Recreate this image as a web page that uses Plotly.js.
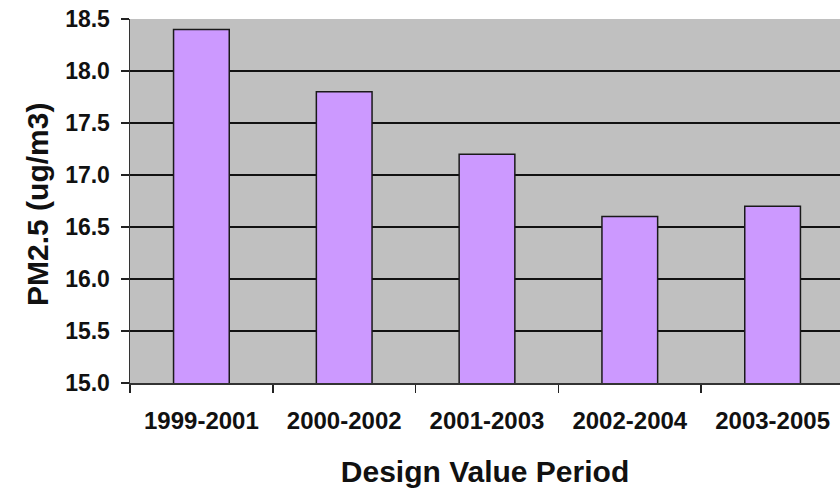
<!DOCTYPE html>
<html>
<head>
<meta charset="utf-8">
<script src="https://cdn.plot.ly/plotly-3.0.1.min.js"></script>
<style>html,body{margin:0;padding:0;background:#fff;overflow:hidden;}</style>
</head>
<body>
<div id="chart" style="width:840px;height:488px;"></div>
<script>
const periods = ["1999-2001", "2000-2002", "2001-2003", "2002-2004", "2003-2005"];
const pm25 = [18.4, 17.8, 17.2, 16.6, 16.7];
const yTicks = [15.0, 15.5, 16.0, 16.5, 17.0, 17.5, 18.0, 18.5];
const xTitle = "Design Value Period";
const yTitle = "PM2.5 (ug/m3)";

const trace = {
  type: "bar",
  x: periods,
  y: pm25,
  width: 0.39,
  marker: { color: "#CC99FF", line: { color: "#1a1a1a", width: 1.5 } },
  hoverinfo: "skip"
};

const layout = {
  width: 840,
  height: 488,
  margin: { l: 130, r: 0, t: 19, b: 105 },
  paper_bgcolor: "#ffffff",
  plot_bgcolor: "#C0C0C0",
  showlegend: false,
  font: { family: "Liberation Sans, Arial, sans-serif", color: "#111" },
  xaxis: {
    type: "category",
    range: [-0.5, 4.472],
    tickson: "boundaries",
    ticks: "outside",
    ticklen: 8,
    tickcolor: "#222",
    tickwidth: 1.5,
    ticklabelstandoff: 16,
    showline: true,
    linecolor: "#333",
    linewidth: 1.5,
    showgrid: false,
    tickfont: { size: 24, family: "Liberation Sans, Arial, sans-serif", weight: "bold", color: "#111" },
    title: { text: xTitle, standoff: 27, font: { size: 30, weight: "bold", color: "#111" } }
  },
  yaxis: {
    range: [15, 18.5],
    tickvals: yTicks,
    tickformat: ".1f",
    ticks: "outside",
    ticklen: 8,
    tickcolor: "#222",
    tickwidth: 1.5,
    ticklabelstandoff: 6,
    showline: true,
    linecolor: "#333",
    linewidth: 1.5,
    showgrid: true,
    gridcolor: "#111",
    gridwidth: 1.5,
    zeroline: false,
    tickfont: { size: 23, family: "Liberation Sans, Arial, sans-serif", weight: "bold", color: "#111" }
  },
  annotations: [{
    text: yTitle,
    xref: "paper", yref: "paper",
    x: -0.1296, y: 0.4918,
    xanchor: "center", yanchor: "middle",
    textangle: -90,
    showarrow: false,
    font: { size: 30, family: "Liberation Sans, Arial, sans-serif", weight: "bold", color: "#111" }
  }]
};

Plotly.newPlot("chart", [trace], layout, { displayModeBar: false, staticPlot: true });
</script>
</body>
</html>
